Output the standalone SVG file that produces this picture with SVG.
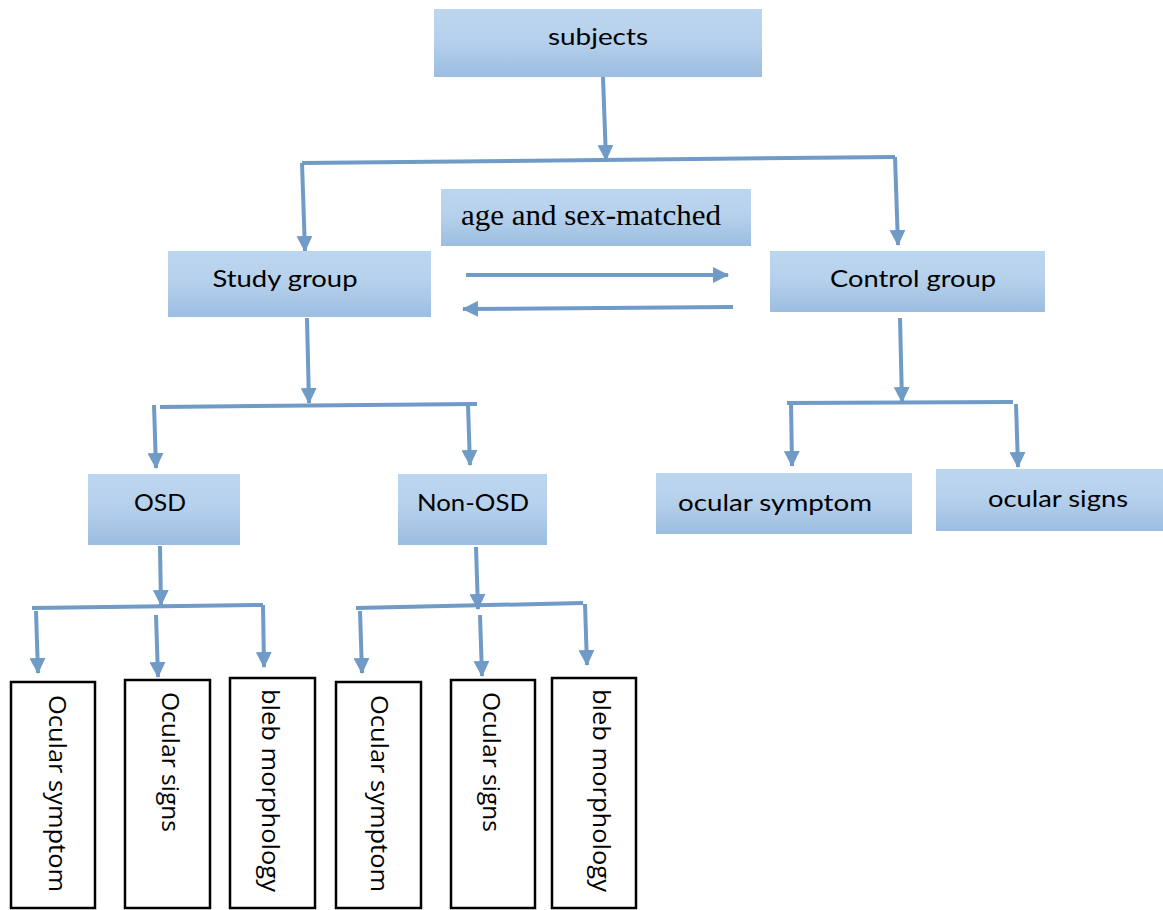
<svg xmlns="http://www.w3.org/2000/svg" width="1163" height="910" viewBox="0 0 1163 910">
<defs>
<linearGradient id="g" x1="0" y1="0" x2="0" y2="1">
<stop offset="0" stop-color="#bdd6ef"/>
<stop offset="0.45" stop-color="#b6d1ec"/>
<stop offset="1" stop-color="#9cbde1"/>
</linearGradient>
<marker id="ah" markerUnits="userSpaceOnUse" markerWidth="16" markerHeight="16" refX="15" refY="8" orient="auto" viewBox="0 0 16 16">
<path d="M0,0 L16,8 L0,16 z" fill="#6f9bc6"/>
</marker>
<style>
.box{fill:url(#g);}
.wbox{fill:#fff;stroke:#000;stroke-width:2.5;}
.t{font-family:"Lato","Open Sans",sans-serif;font-size:24px;fill:#000;text-anchor:middle;}
.r{font-family:"Open Sans","Lato",sans-serif;font-size:23px;fill:#000;}
.s{font-family:"Liberation Serif",serif;font-size:29px;fill:#000;}
.c line,.c path{stroke:#6f9bc6;stroke-width:4;fill:none;}
.c .a{marker-end:url(#ah);}
</style>
</defs>
<g class="c" id="connectors">
<path class="a" d="M603,77 L606,160"/>
<path d="M302,163 L895,157"/>
<path class="a" d="M302,163 L305,251"/>
<path class="a" d="M895,157 L898,245"/>
<path class="a" d="M466,275 L728,275"/>
<path class="a" d="M733,307 L463,309"/>
<path class="a" d="M307,318 L309,403"/>
<path d="M160,407 L477,404"/>
<path class="a" d="M154,405 L156,468"/>
<path class="a" d="M468,405 L470,465"/>
<path class="a" d="M900,318 L902,402"/>
<path d="M787,403 L1013,402"/>
<path class="a" d="M791,403 L792,466"/>
<path class="a" d="M1016,404 L1018,467"/>
<path class="a" d="M160,546 L161,605"/>
<path d="M32,608 L263,605"/>
<path class="a" d="M36,611 L38,673"/>
<path class="a" d="M156,615 L158,677"/>
<path class="a" d="M263,605 L264,667"/>
<path class="a" d="M476,547 L478,609"/>
<path d="M356,608 L583,603"/>
<path class="a" d="M360,611 L362,673"/>
<path class="a" d="M480,615 L482,676"/>
<path class="a" d="M585,604 L587,665"/>
</g>
<g id="subjects"><rect class="box" x="434" y="9" width="328" height="68"/><text class="t" x="598" y="45" textLength="100" lengthAdjust="spacingAndGlyphs">subjects</text></g>
<g id="age"><rect class="box" x="441" y="189" width="310" height="57"/><text class="s" x="461" y="225" textLength="260" lengthAdjust="spacingAndGlyphs">age and sex-matched</text></g>
<g id="study"><rect class="box" x="168" y="251" width="263" height="66"/><text class="t" x="285" y="287" textLength="145" lengthAdjust="spacingAndGlyphs">Study group</text></g>
<g id="control"><rect class="box" x="770" y="251" width="275" height="61"/><text class="t" x="913" y="287" textLength="166" lengthAdjust="spacingAndGlyphs">Control group</text></g>
<g id="osd"><rect class="box" x="88" y="474" width="152" height="71"/><text class="t" x="160" y="511" textLength="52" lengthAdjust="spacingAndGlyphs">OSD</text></g>
<g id="nonosd"><rect class="box" x="398" y="474" width="149" height="71"/><text class="t" x="473" y="511" textLength="112" lengthAdjust="spacingAndGlyphs">Non-OSD</text></g>
<g id="ocsym"><rect class="box" x="656" y="473" width="256" height="61"/><text class="t" x="775" y="511" textLength="194" lengthAdjust="spacingAndGlyphs">ocular symptom</text></g>
<g id="ocsig"><rect class="box" x="936" y="469" width="227" height="62"/><text class="t" x="1058" y="507" textLength="140" lengthAdjust="spacingAndGlyphs">ocular signs</text></g>
<g id="b1"><rect class="wbox" x="11" y="682" width="84" height="226"/><text class="r" transform="translate(49,695) rotate(90)" textLength="197" lengthAdjust="spacingAndGlyphs">Ocular symptom</text></g>
<g id="b2"><rect class="wbox" x="125" y="680" width="85" height="228"/><text class="r" transform="translate(162,692) rotate(90)" textLength="140" lengthAdjust="spacingAndGlyphs">Ocular signs</text></g>
<g id="b3"><rect class="wbox" x="230" y="678" width="85" height="230"/><text class="r" transform="translate(262,689) rotate(90)" textLength="203" lengthAdjust="spacingAndGlyphs">bleb morphology</text></g>
<g id="b4"><rect class="wbox" x="336" y="682" width="85" height="226"/><text class="r" transform="translate(371,695) rotate(90)" textLength="197" lengthAdjust="spacingAndGlyphs">Ocular symptom</text></g>
<g id="b5"><rect class="wbox" x="451" y="680" width="84" height="228"/><text class="r" transform="translate(483,692) rotate(90)" textLength="140" lengthAdjust="spacingAndGlyphs">Ocular signs</text></g>
<g id="b6"><rect class="wbox" x="552" y="678" width="84" height="230"/><text class="r" transform="translate(593,689) rotate(90)" textLength="203" lengthAdjust="spacingAndGlyphs">bleb morphology</text></g>
</svg>
